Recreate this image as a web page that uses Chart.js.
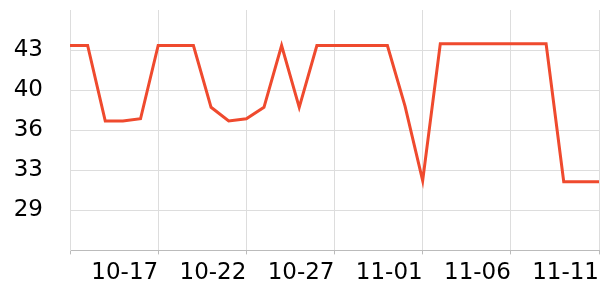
<!DOCTYPE html>
<html>
<head>
<meta charset="utf-8">
<script src="https://cdn.jsdelivr.net/npm/chart.js@4/dist/chart.umd.min.js"></script>
<style>
  body { margin: 0; background: #fff; }
  #wrap { width: 600px; height: 300px; }
</style>
</head>
<body>
<div id="wrap"><canvas id="tempChart"></canvas></div>
<script>
// dates from 10-12 to 11-11, one point per day
const dates = [
  '10-12', '10-13', '10-14', '10-15', '10-16', '10-17', '10-18', '10-19', '10-20', '10-21',
  '10-22', '10-23', '10-24', '10-25', '10-26', '10-27', '10-28', '10-29', '10-30', '10-31',
  '11-01', '11-02', '11-03', '11-04', '11-05', '11-06', '11-07', '11-08', '11-09', '11-10',
  '11-11'
];
const values = [
  43.4, 43.4, 36.8, 36.8, 37.0, 43.4, 43.4, 43.4, 38.0, 36.8,
  37.0, 38.0, 43.4, 38.0, 43.4, 43.4, 43.4, 43.4, 43.4, 38.1,
  31.6, 43.55, 43.55, 43.55, 43.55, 43.55, 43.55, 43.55, 31.5, 31.5,
  31.5
];
// y axis: gridlines every 3.5, labels rounded
const yMin = 25.5;
const yMax = 46.5;
const yStep = 3.5;

const font = { family: 'DejaVu Sans', size: 23 };

// drop the extra padding the scales ask for, layout padding does the job
function noPad(scale) {
  scale.paddingTop = 0;
  scale.paddingBottom = 0;
  scale.paddingLeft = 0;
  scale.paddingRight = 0;
}

const ctx = document.getElementById('tempChart').getContext('2d');
new Chart(ctx, {
  type: 'line',
  data: {
    labels: dates,
    datasets: [{
      data: values,
      borderColor: '#ef4a2e',
      borderWidth: 3,
      pointRadius: 0,
      tension: 0,
      fill: false
    }]
  },
  options: {
    responsive: true,
    maintainAspectRatio: false,
    animation: false,
    layout: { padding: { top: 10, right: 1, bottom: 8, left: 0 } },
    plugins: { legend: { display: false }, tooltip: { enabled: false } },
    scales: {
      x: {
        grid: { color: '#dddddd', tickLength: 4, tickColor: '#bbbbbb' },
        border: { color: '#bbbbbb' },
        afterFit: noPad,
        ticks: {
          autoSkip: false,
          maxRotation: 0,
          align: 'end',
          padding: 5,
          color: '#000',
          font: font,
          callback: function (v, i) {
            if (i === 0) return '';
            return i % 5 === 0 ? dates[i] : null;
          }
        }
      },
      y: {
        min: yMin,
        max: yMax,
        grid: { color: '#dddddd', drawTicks: false },
        border: { color: '#dddddd' },
        afterFit: function (scale) {
          noPad(scale);
          scale.width = 70;
        },
        ticks: {
          stepSize: yStep,
          padding: 27,
          color: '#000',
          font: font,
          callback: function (v) {
            if (v < 28 || v > 44) return null;
            return Math.round(v);
          }
        }
      }
    }
  }
});
</script>
</body>
</html>
